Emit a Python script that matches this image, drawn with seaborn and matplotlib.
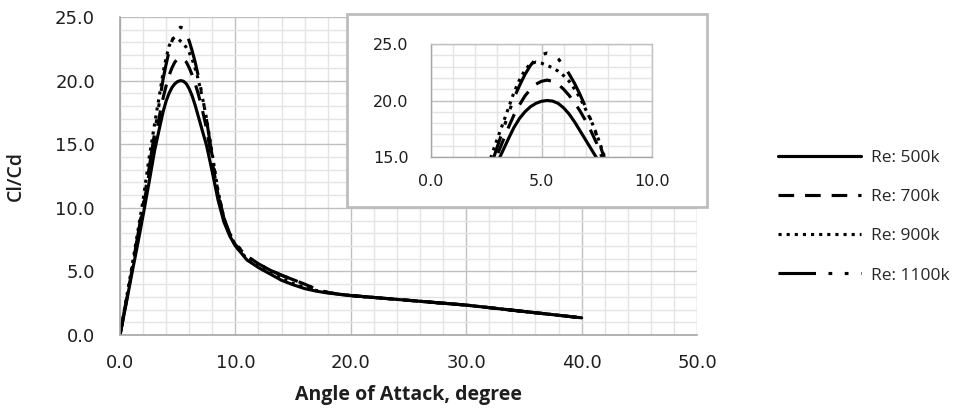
import matplotlib
matplotlib.use("Agg")
import matplotlib.pyplot as plt
from matplotlib.ticker import MultipleLocator, FormatStrFormatter
from matplotlib.patches import Rectangle
import seaborn as sns
import pandas as pd

# ---------------- data ----------------
angle = [0, 0.5, 1, 1.5, 2, 2.5, 3,
         3.5, 3.75, 4, 4.25, 4.5, 4.75, 5, 5.25, 5.5, 5.75, 6, 6.25, 6.5, 6.75, 7, 7.25, 7.5,
         8, 8.5, 9, 9.5, 10,
         11, 12, 13, 14, 15, 16, 17, 18, 19, 20,
         22, 24, 26, 28, 30, 32, 34, 36, 38, 40]

tail = [2.95, 2.8, 2.65, 2.5, 2.35, 2.15, 1.95, 1.75, 1.55, 1.35]

re500k = ([0, 2.3, 4.7, 7.0, 9.4, 11.9, 14.5,
           16.6, 17.6, 18.4, 19.0, 19.45, 19.75, 19.93, 20.0, 19.95, 19.75, 19.35, 18.8, 18.1, 17.3, 16.5, 15.7, 14.9,
           12.8, 10.6, 8.9, 7.8, 7.0,
           5.9, 5.3, 4.8, 4.3, 3.95, 3.65, 3.45, 3.3, 3.2, 3.1] + tail)
re700k = ([0, 2.4, 4.9, 7.4, 9.9, 12.6, 15.2,
           17.6, 18.7, 19.6, 20.4, 21.0, 21.45, 21.7, 21.8, 21.7, 21.45, 21.0, 20.45, 19.8, 19.05, 18.2, 17.25, 16.2,
           13.6, 11.0, 9.1, 7.9, 7.1,
           6.2, 5.6, 5.1, 4.7, 4.35, 4.0, 3.6, 3.35, 3.2, 3.1] + tail)
re900k = ([0, 2.6, 5.2, 7.9, 10.6, 13.8, 16.6,
           19.3, 20.7, 21.8, 22.7, 23.25, 23.4, 23.3, 23.1, 22.9, 22.6, 22.2, 21.7, 21.0, 20.2, 19.2, 18.2, 17.0,
           14.2, 11.3, 9.2, 7.9, 7.0,
           6.0, 5.4, 4.9, 4.45, 4.05, 3.75, 3.5, 3.35, 3.2, 3.1] + tail)
re1100k = ([0, 2.5, 5.0, 7.6, 10.2, 13.0, 15.9,
            18.8, 20.2, 21.3, 22.3, 23.1, 23.7, 24.05, 24.2, 24.1, 23.7, 23.1, 22.35, 21.5, 20.5, 19.4, 18.2, 16.9,
            14.0, 11.2, 9.2, 8.0, 7.2,
            6.2, 5.6, 5.1, 4.7, 4.35, 4.0, 3.6, 3.35, 3.2, 3.1] + tail)

labels = ["Re: 500k", "Re: 700k", "Re: 900k", "Re: 1100k"]
series = [re500k, re700k, re900k, re1100k]

main_xticks = [0, 10, 20, 30, 40, 50]
main_yticks = [0, 5, 10, 15, 20, 25]
inset_xticks = [0, 5, 10]
inset_yticks = [15, 20, 25]

# ---------------- style ----------------
sns.set_theme(style="white")
plt.rcParams["font.family"] = ["DejaVu Sans"]

styles = [
    "-",
    (0, (5, 3.5)),
    (0, (1, 1.6)),
    (0, (12, 4, 1.2, 4, 1.2, 4)),
]
LW = 2.25
MAJ = "#c0c0c0"
MIN = "#e4e4e4"
SPN = "#a6a6a6"
TXT = "#1e1e1e"

fig = plt.figure(figsize=(9.66, 4.15), dpi=100)
ax = fig.add_axes([120 / 966, 1 - 335 / 415, 577 / 966, 318 / 415])

df_list = []
for lab, vals in zip(labels, series):
    df_list.append(pd.DataFrame({"angle": angle, "clcd": vals, "Re": lab}))
df = pd.concat(df_list, ignore_index=True)

handles = []
for lab, ls in zip(labels, styles):
    sub = df[df["Re"] == lab]
    sns.lineplot(data=sub, x="angle", y="clcd", ax=ax, color="black", linewidth=LW,
                 linestyle=ls, label=lab, sort=False, legend=False)
    handles.append(ax.lines[-1])

ax.set_xlim(0, 50)
ax.set_ylim(0, 25)
ax.set_xticks(main_xticks)
ax.set_yticks(main_yticks)
ax.xaxis.set_major_formatter(FormatStrFormatter("%.1f"))
ax.yaxis.set_major_formatter(FormatStrFormatter("%.1f"))
ax.xaxis.set_minor_locator(MultipleLocator(2))
ax.yaxis.set_minor_locator(MultipleLocator(1))
ax.grid(which="major", color=MAJ, lw=1.0)
ax.grid(which="minor", color=MIN, lw=1.0)
ax.set_axisbelow(True)
ax.tick_params(which="both", length=0)
ax.tick_params(axis="y", pad=18, labelsize=13, labelcolor=TXT)
ax.tick_params(axis="x", pad=14, labelsize=13, labelcolor=TXT)
for s in ["top", "right"]:
    ax.spines[s].set_visible(False)
for s in ["left", "bottom"]:
    ax.spines[s].set_color(SPN)
    ax.spines[s].set_linewidth(1.2)

ax.set_xlabel("Angle of Attack, degree", family=["Open Sans", "DejaVu Sans"],
              fontweight="bold", fontsize=14, color=TXT, labelpad=9)
ax.set_ylabel("Cl/Cd", family=["Open Sans", "DejaVu Sans"], fontweight="semibold",
              fontsize=14, color=TXT)
ax.yaxis.set_label_coords(-0.163, 0.5)

# inset frame
box = Rectangle((347 / 966, 1 - 207 / 415), 360 / 966, 193 / 415, transform=fig.transFigure,
                facecolor="white", edgecolor="#bdbdbd", lw=2, zorder=1)
fig.patches.append(box)

axi = fig.add_axes([431 / 966, 1 - 157 / 415, 221 / 966, 113 / 415], zorder=2)
for lab, ls in zip(labels, styles):
    sub = df[df["Re"] == lab]
    sns.lineplot(data=sub, x="angle", y="clcd", ax=axi, color="black", linewidth=LW,
                 linestyle=ls, sort=False, legend=False)
axi.set_xlim(0, 10)
axi.set_ylim(15, 25)
axi.set_xticks(inset_xticks)
axi.set_yticks(inset_yticks)
axi.xaxis.set_major_formatter(FormatStrFormatter("%.1f"))
axi.yaxis.set_major_formatter(FormatStrFormatter("%.1f"))
axi.xaxis.set_minor_locator(MultipleLocator(1))
axi.yaxis.set_minor_locator(MultipleLocator(1))
axi.grid(which="major", color=MAJ, lw=1.0)
axi.grid(which="minor", color=MIN, lw=1.0)
axi.set_axisbelow(True)
axi.tick_params(which="both", length=0)
axi.tick_params(axis="y", pad=16, labelsize=11.5, labelcolor=TXT)
axi.tick_params(axis="x", pad=12, labelsize=11.5, labelcolor=TXT)
axi.set_xlabel("")
axi.set_ylabel("")
for s in axi.spines.values():
    s.set_color(MAJ)
    s.set_linewidth(1.0)
axi.spines["left"].set_color(SPN)
axi.spines["bottom"].set_color(SPN)

fig.legend(handles, labels, loc="upper left", bbox_to_anchor=(769 / 966, 1 - 141 / 415),
           frameon=False, handlelength=4.8, handletextpad=0.55,
           labelspacing=1.33, borderpad=0,
           prop={"family": ["Open Sans", "DejaVu Sans"], "size": 12.5})

fig.savefig("out.png", dpi=100)
